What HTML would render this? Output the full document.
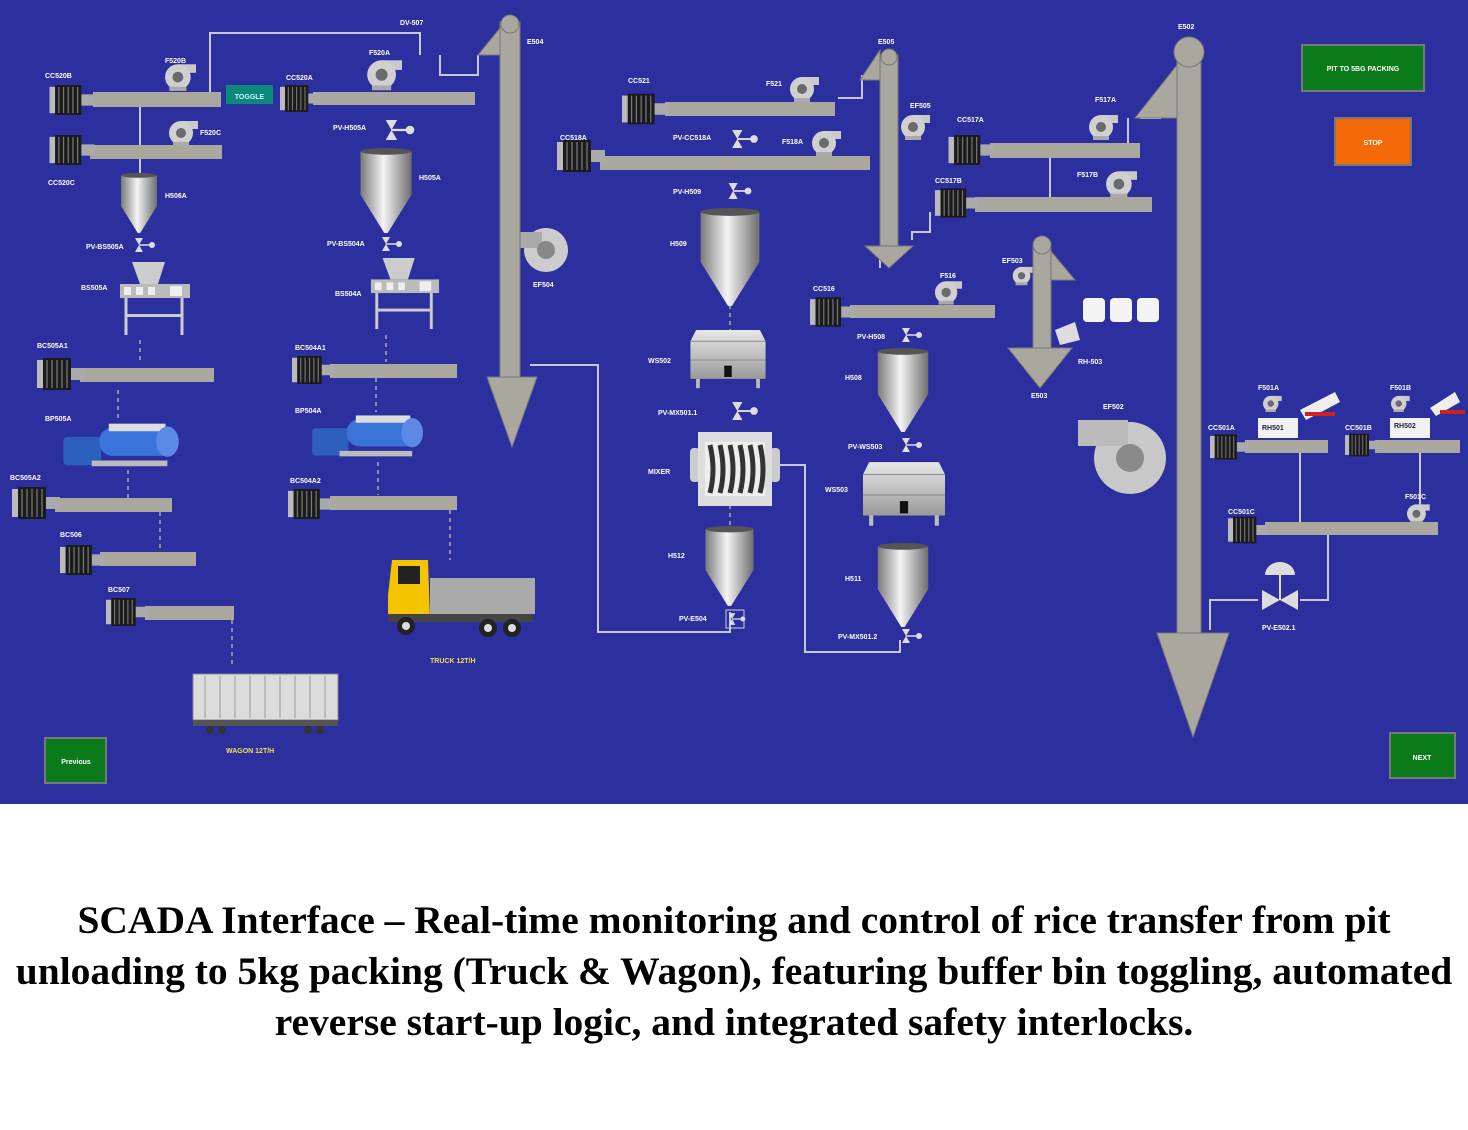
<!DOCTYPE html>
<html><head><meta charset="utf-8"><style>
html,body{margin:0;padding:0;background:#fff;width:1468px;height:1130px;overflow:hidden}
svg{display:block}
.cap{position:absolute;left:0;top:895px;width:1468px;text-align:center;font-family:"Liberation Serif",serif;font-weight:bold;font-size:39.5px;line-height:51px;color:#000;white-space:nowrap}
text{font-family:"Liberation Sans",sans-serif;font-weight:bold;fill:#fff;font-size:7px}
</style></head><body>
<svg width="1468" height="804" viewBox="0 0 1468 804" xmlns="http://www.w3.org/2000/svg">
<defs>
<linearGradient id="m" x1="0" x2="1" y1="0" y2="0"><stop offset="0" stop-color="#7a7a7a"/><stop offset=".45" stop-color="#f4f4f4"/><stop offset="1" stop-color="#6e6e6e"/></linearGradient>
<linearGradient id="bx" x1="0" x2="0" y1="0" y2="1"><stop offset="0" stop-color="#e8e8e8"/><stop offset="1" stop-color="#9a9a9a"/></linearGradient>
<symbol id="motor" viewBox="0 0 48 32"><rect x="0" y="2" width="6" height="28" fill="#bbb"/><rect x="6" y="0" width="28" height="32" fill="#1b1b1b"/><g stroke="#777" stroke-width="1.3"><line x1="10" y1="2" x2="10" y2="30"/><line x1="15" y1="2" x2="15" y2="30"/><line x1="20" y1="2" x2="20" y2="30"/><line x1="25" y1="2" x2="25" y2="30"/><line x1="30" y1="2" x2="30" y2="30"/></g><rect x="34" y="10" width="14" height="12" fill="#aaa"/></symbol>
<symbol id="fan" viewBox="0 0 30 28"><rect x="14" y="3" width="16" height="8" fill="#c9c9c9"/><circle cx="13" cy="15" r="12" fill="#d0d0d0"/><circle cx="13" cy="15" r="5" fill="#6a6a6a"/><rect x="5" y="24" width="16" height="4" fill="#aaa"/></symbol>
<symbol id="hop" viewBox="0 0 60 100"><path d="M0 4 L60 4 L60 55 L32 100 L28 100 L0 55 Z" fill="url(#m)"/><ellipse cx="30" cy="4" rx="30" ry="4" fill="#555"/></symbol>
<symbol id="box" viewBox="0 0 80 66"><path d="M6 0 L74 0 L80 12 L80 52 L0 52 L0 12 Z" fill="url(#bx)"/><line x1="0" y1="12" x2="80" y2="12" stroke="#888"/><line x1="0" y1="32" x2="80" y2="32" stroke="#888"/><rect x="36" y="38" width="8" height="12" fill="#111"/><rect x="6" y="52" width="4" height="10" fill="#bbb"/><rect x="70" y="52" width="4" height="10" fill="#bbb"/></symbol>
<symbol id="pv" viewBox="0 0 24 14"><path d="M2 0 L10 0 L6 7 Z M2 14 L10 14 L6 7 Z" fill="#ddd"/><line x1="6" y1="7" x2="18" y2="7" stroke="#ddd" stroke-width="1.5"/><circle cx="19" cy="7" r="3" fill="#ddd"/></symbol>
<symbol id="bs" viewBox="0 0 70 75"><path d="M12 0 L45 0 L38 22 L20 22 Z" fill="#ccc"/><rect x="0" y="22" width="70" height="14" fill="#bbb"/><g fill="#eee"><rect x="4" y="25" width="7" height="8"/><rect x="16" y="25" width="7" height="8"/><rect x="28" y="25" width="7" height="8"/><rect x="50" y="24" width="12" height="10"/></g><g stroke="#ccc" stroke-width="3"><line x1="6" y1="36" x2="6" y2="73"/><line x1="62" y1="36" x2="62" y2="73"/></g><rect x="6" y="52" width="56" height="3" fill="#ccc"/></symbol>
<symbol id="pump" viewBox="0 0 125 55"><rect x="0" y="20" width="40" height="30" rx="4" fill="#2d5fbf"/><rect x="38" y="10" width="80" height="30" rx="14" fill="#3a74d8"/><rect x="48" y="6" width="60" height="8" fill="#ddd"/><ellipse cx="110" cy="25" rx="12" ry="16" fill="#5a8ae6"/><rect x="30" y="45" width="80" height="6" fill="#bbb"/></symbol>
</defs>
<rect width="1468" height="804" fill="#2c309f"/>
<g fill="none" stroke="#c8c8d8" stroke-width="2">
<polyline points="210,98 210,33 420,33 420,55"/>
<polyline points="440,55 440,75 478,75 478,55"/>
<line x1="140" y1="100" x2="140" y2="175"/>
<polyline points="530,365 598,365 598,632 730,632 730,612"/>
<polyline points="772,465 805,465 805,652 900,652 900,640"/>
<polyline points="838,98 862,98 862,75"/>
<polyline points="880,258 880,268"/>
<polyline points="912,240 912,232 930,232 930,212"/>
<line x1="1050" y1="150" x2="1050" y2="205"/>
<polyline points="1128,118 1128,143"/>
<polyline points="1140,118 1160,118 1160,90"/>
<polyline points="1210,630 1210,600 1258,600"/>
<polyline points="1300,600 1328,600 1328,528"/>
<line x1="1300" y1="453" x2="1300" y2="528"/>
<line x1="1420" y1="453" x2="1420" y2="528"/>
</g>
<g stroke="#8c8c9c" stroke-width="2" stroke-dasharray="4 4">
<line x1="140" y1="340" x2="140" y2="362"/><line x1="118" y1="390" x2="118" y2="420"/><line x1="128" y1="470" x2="128" y2="498"/><line x1="160" y1="512" x2="160" y2="552"/><line x1="232" y1="620" x2="232" y2="668"/>
<line x1="386" y1="335" x2="386" y2="362"/><line x1="376" y1="378" x2="376" y2="412"/><line x1="378" y1="462" x2="378" y2="495"/><line x1="450" y1="510" x2="450" y2="560"/>
<line x1="730" y1="305" x2="730" y2="330"/><line x1="730" y1="505" x2="730" y2="528"/>
</g>
<g fill="#aaa79f">
<rect x="93" y="92" width="128" height="15"/><rect x="313" y="92" width="162" height="13"/>
<rect x="90" y="145" width="132" height="14"/>
<rect x="80" y="368" width="134" height="14"/><rect x="330" y="364" width="127" height="14"/>
<rect x="55" y="498" width="117" height="14"/><rect x="330" y="496" width="127" height="14"/>
<rect x="100" y="552" width="96" height="14"/><rect x="145" y="606" width="89" height="14"/>
<rect x="665" y="102" width="170" height="14"/><rect x="600" y="156" width="270" height="14"/>
<rect x="850" y="305" width="145" height="13"/>
<rect x="990" y="143" width="150" height="15"/><rect x="975" y="197" width="177" height="15"/>
<rect x="1245" y="440" width="83" height="13"/><rect x="1375" y="440" width="85" height="13"/>
<rect x="1265" y="522" width="173" height="13"/>
</g>
<use href="#motor" x="47" y="85" width="50" height="30"/>
<use href="#motor" x="280" y="84" width="40" height="29"/>
<use href="#motor" x="48" y="135" width="48" height="30"/>
<use href="#motor" x="37" y="358" width="48" height="32"/>
<use href="#motor" x="292" y="355" width="42" height="30"/>
<use href="#motor" x="12" y="486" width="48" height="34"/>
<use href="#motor" x="288" y="488" width="45" height="32"/>
<use href="#motor" x="60" y="545" width="45" height="30"/>
<use href="#motor" x="105" y="598" width="44" height="28"/>
<use href="#motor" x="622" y="92" width="46" height="34"/>
<use href="#motor" x="557" y="132" width="48" height="48"/>
<use href="#motor" x="810" y="296" width="44" height="32"/>
<use href="#motor" x="948" y="135" width="46" height="30"/>
<use href="#motor" x="935" y="188" width="44" height="30"/>
<use href="#motor" x="1210" y="434" width="38" height="26"/>
<use href="#motor" x="1345" y="432" width="34" height="26"/>
<use href="#motor" x="1228" y="515" width="40" height="30"/>
<use href="#fan" x="164" y="60" width="32" height="32"/>
<use href="#fan" x="366" y="55" width="36" height="37"/>
<use href="#fan" x="168" y="118" width="30" height="28"/>
<use href="#fan" x="788" y="74" width="32" height="28"/>
<use href="#fan" x="810" y="128" width="32" height="28"/>
<use href="#fan" x="900" y="112" width="30" height="28"/>
<use href="#fan" x="934" y="278" width="28" height="27"/>
<use href="#fan" x="1088" y="110" width="30" height="32"/>
<use href="#fan" x="1105" y="168" width="32" height="30"/>
<use href="#fan" x="1012" y="264" width="22" height="22"/>
<use href="#fan" x="1262" y="394" width="20" height="18"/>
<use href="#fan" x="1390" y="394" width="20" height="18"/>
<use href="#fan" x="1405" y="502" width="26" height="22"/>
<g><circle cx="546" cy="250" r="22" fill="#ccc"/><rect x="520" y="232" width="22" height="16" fill="#aaa"/><circle cx="546" cy="250" r="9" fill="#888"/></g>
<g><circle cx="1130" cy="458" r="36" fill="#c8c8c8"/><rect x="1078" y="420" width="50" height="26" fill="#bbb"/><circle cx="1130" cy="458" r="14" fill="#8a8a8a"/></g>
<use href="#hop" x="117" y="173" width="44" height="60"/>
<use href="#hop" x="357" y="148" width="58" height="85"/>
<use href="#hop" x="697" y="208" width="66" height="98"/>
<use href="#hop" x="702" y="526" width="55" height="80"/>
<use href="#hop" x="875" y="348" width="56" height="84"/>
<use href="#hop" x="875" y="543" width="56" height="84"/>
<use href="#box" x="688" y="330" width="80" height="62"/>
<use href="#box" x="863" y="462" width="82" height="68"/>
<g><rect x="690" y="448" width="10" height="34" rx="4" fill="#ccc"/><rect x="770" y="448" width="10" height="34" rx="4" fill="#ccc"/><rect x="698" y="432" width="74" height="74" fill="#ddd"/><rect x="705" y="442" width="60" height="54" fill="#eee"/>
<path d="M710 445 q6 25 0 48 M720 445 q6 25 0 48 M730 445 q6 25 0 48 M740 445 q6 25 0 48 M750 445 q6 25 0 48 M760 445 q6 25 0 48" stroke="#333" stroke-width="5" fill="none"/></g>
<use href="#pv" x="133" y="238" width="24" height="14"/>
<use href="#pv" x="376" y="120" width="48" height="20"/>
<use href="#pv" x="380" y="237" width="24" height="14"/>
<use href="#pv" x="725" y="130" width="40" height="18"/>
<use href="#pv" x="725" y="183" width="30" height="16"/>
<use href="#pv" x="725" y="402" width="40" height="18"/>
<use href="#pv" x="900" y="328" width="24" height="14"/>
<use href="#pv" x="900" y="438" width="24" height="14"/>
<use href="#pv" x="900" y="629" width="24" height="14"/>
<rect x="726" y="610" width="18" height="18" fill="none" stroke="#ccc"/><use href="#pv" x="727" y="612" width="20" height="14"/>
<g><path d="M1262 590 L1280 600 L1262 610 Z M1298 590 L1280 600 L1298 610 Z" fill="#ddd"/><line x1="1280" y1="600" x2="1280" y2="575" stroke="#ddd" stroke-width="2"/><path d="M1265 575 a15 13 0 0 1 30 0 Z" fill="#ddd"/></g>
<use href="#bs" x="120" y="262" width="70" height="75"/>
<use href="#bs" x="370" y="258" width="70" height="73"/>
<use href="#pump" x="60" y="418" width="125" height="52"/>
<use href="#pump" x="305" y="410" width="128" height="50"/>
<g fill="#aaa79f" stroke="#777" stroke-width="1">
<path d="M478 55 L500 28 L500 55 Z"/><rect x="500" y="22" width="20" height="358"/><circle cx="510" cy="24" r="9"/><path d="M487 377 L537 377 L512 447 Z"/>
<path d="M860 80 L880 50 L880 80 Z"/><rect x="880" y="55" width="18" height="195"/><circle cx="889" cy="57" r="8"/><path d="M865 246 L913 246 L889 268 Z"/>
<path d="M1050 280 L1050 250 L1075 280 Z"/><rect x="1033" y="245" width="18" height="105"/><circle cx="1042" cy="245" r="9"/><path d="M1008 348 L1072 348 L1040 388 Z"/>
<path d="M1135 118 L1177 65 L1177 118 Z"/><rect x="1177" y="50" width="24" height="585"/><circle cx="1189" cy="52" r="15"/><path d="M1157 633 L1229 633 L1193 737 Z"/>
</g>
<g fill="#f4f4f4"><rect x="1083" y="298" width="22" height="24" rx="4"/><rect x="1110" y="298" width="22" height="24" rx="4"/><rect x="1137" y="298" width="22" height="24" rx="4"/></g>
<path d="M1055 330 L1075 322 L1080 340 L1060 345 Z" fill="#ddd"/>
<rect x="1258" y="418" width="40" height="20" fill="#f2f2f2"/><rect x="1390" y="418" width="40" height="20" fill="#f2f2f2"/>
<g fill="#eee"><path d="M1300 410 L1335 392 L1340 402 L1306 420 Z"/><path d="M1430 408 L1455 392 L1460 402 L1436 416 Z"/></g>
<g fill="#d02020"><rect x="1305" y="412" width="30" height="4"/><rect x="1440" y="410" width="25" height="4"/></g>
<g><rect x="430" y="578" width="105" height="36" fill="#aaa"/><path d="M392 560 L428 560 L430 620 L388 620 L388 595 Z" fill="#f5c400"/><rect x="398" y="566" width="22" height="18" fill="#222"/><rect x="388" y="614" width="145" height="8" fill="#444"/><g fill="#222"><circle cx="406" cy="626" r="9"/><circle cx="488" cy="628" r="9"/><circle cx="512" cy="628" r="9"/></g><g fill="#ddd"><circle cx="406" cy="626" r="4"/><circle cx="488" cy="628" r="4"/><circle cx="512" cy="628" r="4"/></g></g>
<g><rect x="193" y="674" width="145" height="46" fill="#dcdcdc" stroke="#888"/><g stroke="#999"><line x1="205" y1="676" x2="205" y2="718"/><line x1="220" y1="676" x2="220" y2="718"/><line x1="235" y1="676" x2="235" y2="718"/><line x1="250" y1="676" x2="250" y2="718"/><line x1="265" y1="676" x2="265" y2="718"/><line x1="280" y1="676" x2="280" y2="718"/><line x1="295" y1="676" x2="295" y2="718"/><line x1="310" y1="676" x2="310" y2="718"/><line x1="325" y1="676" x2="325" y2="718"/></g><rect x="193" y="720" width="145" height="6" fill="#555"/><g fill="#333"><circle cx="210" cy="730" r="4"/><circle cx="222" cy="730" r="4"/><circle cx="308" cy="730" r="4"/><circle cx="320" cy="730" r="4"/></g></g>
<rect x="226" y="85" width="47" height="19" fill="#0b8a7c"/><text x="249.5" y="99" text-anchor="middle" font-size="11" style="fill:#d8f0ff">TOGGLE</text>
<rect x="1302" y="45" width="122" height="46" fill="#0a7a1a" stroke="#777" stroke-width="2"/><text x="1363" y="71" text-anchor="middle" font-size="8">PIT TO 5BG PACKING</text>
<rect x="1335" y="118" width="76" height="47" fill="#f56a08" stroke="#777" stroke-width="2"/><text x="1373" y="145" text-anchor="middle" font-size="9">STOP</text>
<rect x="45" y="738" width="61" height="45" fill="#0a7a1a" stroke="#777" stroke-width="2"/><text x="76" y="764" text-anchor="middle" font-size="9">Previous</text>
<rect x="1390" y="733" width="65" height="45" fill="#0a7a1a" stroke="#777" stroke-width="2"/><text x="1422" y="760" text-anchor="middle" font-size="9">NEXT</text>
<text x="45" y="78">CC520B</text><text x="165" y="63">F520B</text><text x="400" y="25">DV-507</text><text x="369" y="55">F520A</text><text x="286" y="80">CC520A</text><text x="527" y="44">E504</text>
<text x="200" y="135">F520C</text><text x="48" y="185">CC520C</text><text x="165" y="198">H506A</text><text x="333" y="130">PV-H505A</text><text x="419" y="180">H505A</text>
<text x="86" y="249">PV-BS505A</text><text x="81" y="290">BS505A</text><text x="327" y="246">PV-BS504A</text><text x="335" y="296">BS504A</text>
<text x="37" y="348">BC505A1</text><text x="295" y="350">BC504A1</text><text x="45" y="421">BP505A</text><text x="295" y="413">BP504A</text>
<text x="10" y="480">BC505A2</text><text x="290" y="483">BC504A2</text><text x="60" y="537">BC506</text><text x="108" y="592">BC507</text>
<text x="226" y="753" style="fill:#f5e050">WAGON 12T/H</text><text x="430" y="663" style="fill:#f5e050">TRUCK 12T/H</text><text x="533" y="287">EF504</text>
<text x="628" y="83">CC521</text><text x="766" y="86">F521</text><text x="560" y="140">CC518A</text><text x="673" y="140">PV-CC518A</text><text x="782" y="144">F518A</text><text x="673" y="194">PV-H509</text><text x="670" y="246">H509</text>
<text x="648" y="363">WS502</text><text x="658" y="415">PV-MX501.1</text><text x="648" y="474">MIXER</text><text x="668" y="558">H512</text><text x="679" y="621">PV-E504</text>
<text x="878" y="44">E505</text><text x="910" y="108">EF505</text><text x="957" y="122">CC517A</text><text x="1095" y="102">F517A</text><text x="935" y="183">CC517B</text><text x="1077" y="177">F517B</text>
<text x="1002" y="263">EF503</text><text x="940" y="278">F516</text><text x="813" y="291">CC516</text><text x="857" y="339">PV-H508</text><text x="845" y="380">H508</text><text x="848" y="449">PV-WS503</text><text x="825" y="492">WS503</text><text x="845" y="581">H511</text><text x="838" y="639">PV-MX501.2</text>
<text x="1078" y="364">RH-503</text><text x="1031" y="398">E503</text><text x="1103" y="409">EF502</text><text x="1178" y="29">E502</text>
<text x="1258" y="390">F501A</text><text x="1390" y="390">F501B</text><text x="1208" y="430">CC501A</text><text x="1345" y="430">CC501B</text><text x="1262" y="430" style="fill:#224">RH501</text><text x="1394" y="428" style="fill:#224">RH502</text>
<text x="1405" y="499">F501C</text><text x="1228" y="514">CC501C</text><text x="1262" y="630">PV-E502.1</text>
</svg>
<div class="cap">SCADA Interface – Real-time monitoring and control of rice transfer from pit<br>unloading to 5kg packing (Truck &amp; Wagon), featuring buffer bin toggling, automated<br>reverse start-up logic, and integrated safety interlocks.</div>
</body></html>
